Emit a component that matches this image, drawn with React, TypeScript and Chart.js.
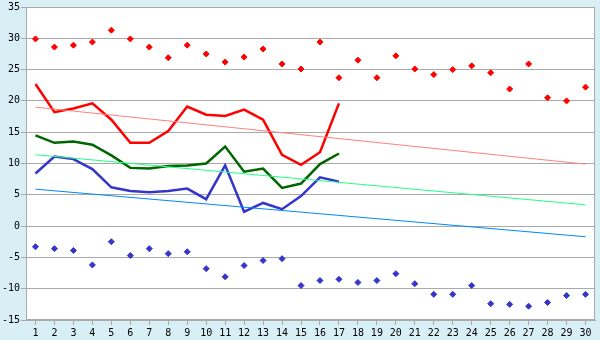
import React, { useEffect, useRef } from "react";
import { Chart, registerables } from "chart.js";

Chart.register(...registerables);

const days = Array.from({ length: 30 }, (_, i) => String(i + 1));

const maxPoints = [29.9, 28.6, 28.9, 29.4, 31.3, 29.9, 28.6, 26.9, 28.9, 27.5, 26.2, 27.0, 28.3, 25.9, 25.1, 29.4, 23.7, 26.5, 23.7, 27.2, 25.1, 24.2, 25.0, 25.6, 24.5, 21.9, 25.9, 20.5, 20.0, 22.2];
const minPoints = [-3.3, -3.6, -3.9, -6.2, -2.5, -4.7, -3.6, -4.4, -4.1, -6.8, -8.1, -6.3, -5.5, -5.2, -9.5, -8.7, -8.5, -9.0, -8.7, -7.6, -9.2, -10.9, -10.9, -9.5, -12.4, -12.5, -12.8, -12.2, -11.1, -10.9];
const maxLine = [22.7, 18.2, 18.8, 19.6, 17.0, 13.3, 13.3, 15.2, 19.1, 17.8, 17.6, 18.6, 17.0, 11.4, 9.8, 11.8, 19.6];
const meanLine = [14.5, 13.3, 13.5, 13.0, 11.3, 9.3, 9.2, 9.6, 9.7, 10.0, 12.7, 8.7, 9.2, 6.1, 6.8, 9.9, 11.6];
const minLine = [8.4, 11.1, 10.7, 9.1, 6.2, 5.6, 5.4, 5.6, 6.0, 4.3, 9.7, 2.3, 3.7, 2.7, 4.8, 7.8, 7.1];
const maxTrend = [19.0, 9.9];
const meanTrend = [11.4, 3.4];
const minTrend = [5.9, -1.7];

const yTicks = [-15, -10, -5, 0, 5, 10, 15, 20, 25, 30, 35];

const font = { family: "'DejaVu Sans Mono', monospace", size: 10 };

export default function App() {
  const ref = useRef<HTMLCanvasElement>(null);
  useEffect(() => {
    document.body.style.margin = "0";
    const trend = (vals: number[]) => [
      { x: days[0], y: vals[0] },
      { x: days[days.length - 1], y: vals[1] },
    ];
    const bgPlugin = {
      id: "bg",
      beforeDraw(chart: any) {
        const { ctx, chartArea } = chart;
        ctx.save();
        ctx.fillStyle = "#D9EFF6";
        ctx.fillRect(0, 0, chart.width, chart.height);
        ctx.fillStyle = "#FFFFFF";
        ctx.fillRect(chartArea.left, chartArea.top, chartArea.right - chartArea.left, chartArea.bottom - chartArea.top);
        ctx.restore();
      },
      afterDraw(chart: any) {
        const { ctx, chartArea } = chart;
        ctx.save();
        ctx.strokeStyle = "#AAAAAA";
        ctx.lineWidth = 1;
        ctx.strokeRect(Math.round(chartArea.left) + 0.5, Math.round(chartArea.top) + 0.5, Math.round(chartArea.right - chartArea.left) - 1, Math.round(chartArea.bottom - chartArea.top) - 1);
        ctx.restore();
      },
    };
    const chart = new Chart(ref.current!, {
      type: "line",
      data: {
        labels: days,
        datasets: [
          { data: trend(maxTrend) as any, borderColor: "#FF8080", borderWidth: 1, pointRadius: 0, fill: false },
          { data: trend(meanTrend) as any, borderColor: "#22FF88", borderWidth: 1, pointRadius: 0, fill: false },
          { data: trend(minTrend) as any, borderColor: "#0088FF", borderWidth: 1, pointRadius: 0, fill: false },
          { data: maxLine, borderColor: "#FF0000", borderWidth: 2.5, pointRadius: 0, fill: false },
          { data: meanLine, borderColor: "#006600", borderWidth: 2.5, pointRadius: 0, fill: false },
          { data: minLine, borderColor: "#3535CC", borderWidth: 2.5, pointRadius: 0, fill: false },
          { data: maxPoints, showLine: false, pointStyle: "rectRot", pointRadius: 3, backgroundColor: "#FF0000", borderColor: "#FF0000", borderWidth: 1 },
          { data: minPoints, showLine: false, pointStyle: "rectRot", pointRadius: 3, backgroundColor: "#3535CC", borderColor: "#3535CC", borderWidth: 1 },
        ],
      },
      options: {
        animation: false,
        responsive: false,
        events: [],
        layout: { padding: { top: 5, right: 5, left: 0, bottom: 0 } },
        plugins: { legend: { display: false }, tooltip: { enabled: false } },
        scales: {
          x: {
            type: "category",
            offset: true,
            grid: { drawOnChartArea: false, drawTicks: true, tickLength: 5, color: "#AAAAAA" },
            border: { color: "#AAAAAA" },
            ticks: { color: "#000", font, padding: 2, maxRotation: 0, autoSkip: false },
            afterFit(scale: any) { scale.height = 20; },
          },
          y: {
            min: -15,
            max: 35,
            grid: { color: "#AAAAAA", tickLength: 5 },
            border: { color: "#AAAAAA" },
            ticks: { color: "#000", font, padding: 1, stepSize: 5 },
            afterBuildTicks(scale: any) { scale.ticks = yTicks.map((v) => ({ value: v })); },
            afterFit(scale: any) { scale.width = 26; },
          },
        },
      },
      plugins: [bgPlugin],
    });
    return () => chart.destroy();
  }, []);
  return <canvas ref={ref} width={600} height={340} style={{ display: "block" }} />;
}
